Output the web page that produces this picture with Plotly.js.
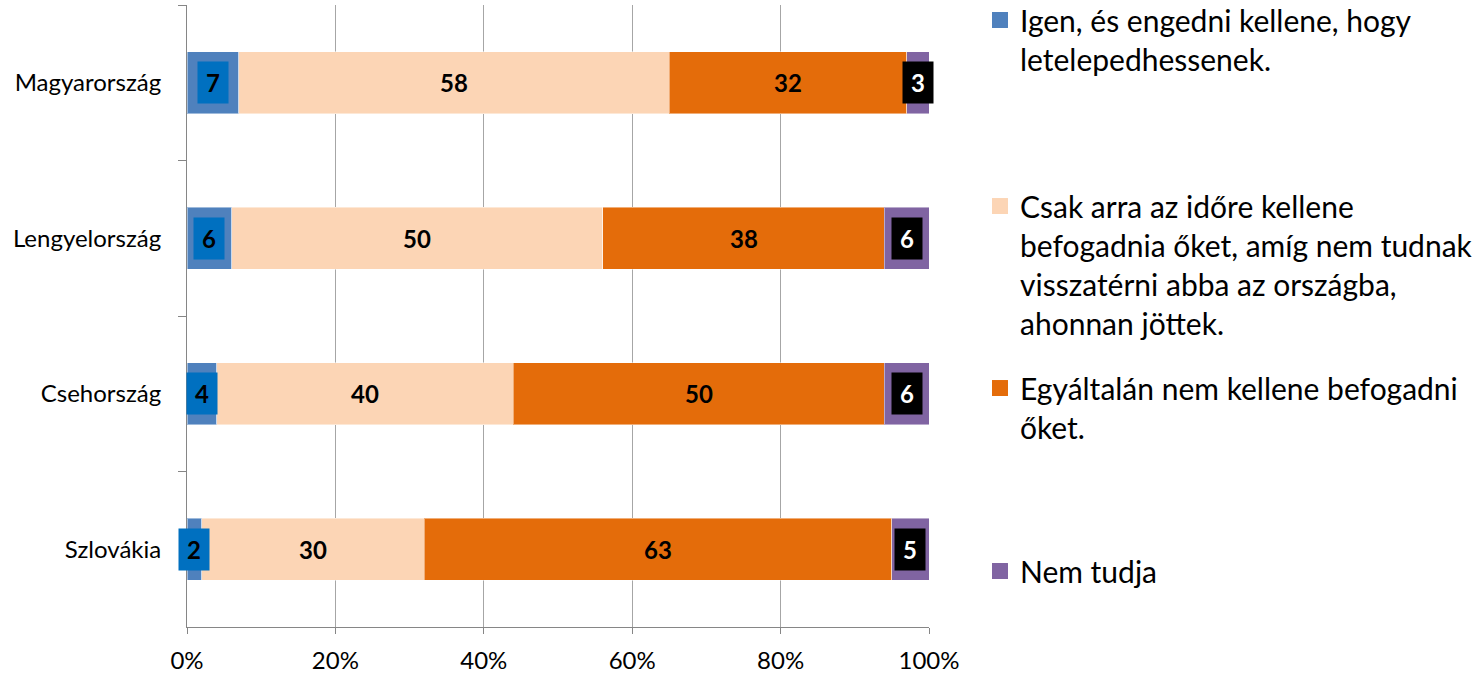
<!DOCTYPE html>
<html><head><meta charset="utf-8">
<script src="https://cdn.plot.ly/plotly-3.0.1.min.js"></script>
<style>html,body{margin:0;padding:0;background:#fff}#chart{width:1482px;height:674px}</style>
</head><body><div id="chart"></div>
<script>
const countries = ['Magyarország', 'Lengyelország', 'Csehország', 'Szlovákia'];
const seriesNames = [
  'Igen, és engedni kellene, hogy<br>letelepedhessenek.',
  'Csak arra az időre kellene<br>befogadnia őket, amíg nem tudnak<br>visszatérni abba az országba,<br>ahonnan jöttek.',
  'Egyáltalán nem kellene befogadni<br>őket.',
  'Nem tudja'
];
const igen = [7, 6, 4, 2];
const csak = [58, 50, 40, 30];
const egyaltalan = [32, 38, 50, 63];
const nemTudja = [3, 6, 6, 5];
const xTickVals = [0, 20, 40, 60, 80, 100];
const xTickText = ['0%', '20%', '40%', '60%', '80%', '100%'];

const seriesValues = [igen, csak, egyaltalan, nemTudja];
const colors = ['#4F81BD', '#FCD5B5', '#E46C0A', '#8064A2'];
const FONT = 'Lato, Carlito, Calibri, sans-serif';

const traces = [];
seriesValues.forEach((vals, i) => {
  traces.push({
    type: 'bar', orientation: 'h', x: vals, y: countries,
    marker: {color: colors[i], line: {color: 'rgba(255,255,255,0.45)', width: 1}},
    showlegend: false, hoverinfo: 'x+y', name: seriesNames[i]
  });
});
seriesValues.forEach((vals, i) => {
  traces.push({
    type: 'scatter', mode: 'markers', x: [null], y: [null],
    marker: {symbol: 'square', size: 16, color: colors[i]},
    name: seriesNames[i], legend: i === 0 ? 'legend' : 'legend' + (i + 1),
    showlegend: true, hoverinfo: 'skip'
  });
});

const annotations = [];
countries.forEach((c, j) => {
  let start = 0;
  seriesValues.forEach((vals, i) => {
    const v = vals[j];
    const a = {
      x: start + v / 2, y: c, xref: 'x', yref: 'y', showarrow: false,
      text: '<b>' + v + '</b>',
      font: {family: FONT, size: 24, color: '#000'}
    };
    if (i === 0) { a.bgcolor = '#0070C0'; a.width = 30; a.height = 41; a.borderpad = 0; }
    if (i === 3) { a.bgcolor = '#000000'; a.font.color = '#FFFFFF'; a.width = 30; a.height = 41; a.borderpad = 0; }
    annotations.push(a);
    start += v;
  });
});

function legendAt(y) {
  return {
    x: 1.0687, y: y, xanchor: 'left', yanchor: 'top', valign: 'top',
    font: {family: FONT, size: 30, color: '#000'},
    bgcolor: 'rgba(0,0,0,0)', borderwidth: 0, itemclick: false, itemdoubleclick: false
  };
}

const layout = {
  width: 1482, height: 674,
  margin: {l: 187, r: 553, t: 5, b: 47, autoexpand: false},
  paper_bgcolor: '#fff', plot_bgcolor: '#fff',
  barmode: 'stack', bargap: 0.6,
  font: {family: FONT, size: 24, color: '#000'},
  xaxis: {
    range: [0, 100], tickvals: xTickVals, ticktext: xTickText,
    showgrid: true, gridcolor: '#A6A6A6', gridwidth: 1,
    zeroline: false, showline: true, linecolor: '#868686', linewidth: 1,
    ticks: 'outside', ticklen: 6, tickcolor: '#868686',
    tickfont: {family: FONT, size: 24, color: '#000'}, ticklabelstandoff: 6,
    fixedrange: true
  },
  yaxis: {
    type: 'category', categoryorder: 'array', categoryarray: countries,
    range: [3.5, -0.5], showgrid: false, zeroline: false,
    showline: true, linecolor: '#868686', linewidth: 1,
    ticks: 'outside', ticklen: 8, tickcolor: '#868686', tickson: 'boundaries',
    tickfont: {family: FONT, size: 24, color: '#000'}, ticklabelstandoff: 20,
    fixedrange: true
  },
  legend: legendAt(1.0177),
  legend2: legendAt(0.7186),
  legend3: legendAt(0.426),
  legend4: legendAt(0.1318),
  annotations: annotations,
  showlegend: true
};

Plotly.newPlot('chart', traces, layout, {displayModeBar: false, staticPlot: true});
</script>
</body></html>
